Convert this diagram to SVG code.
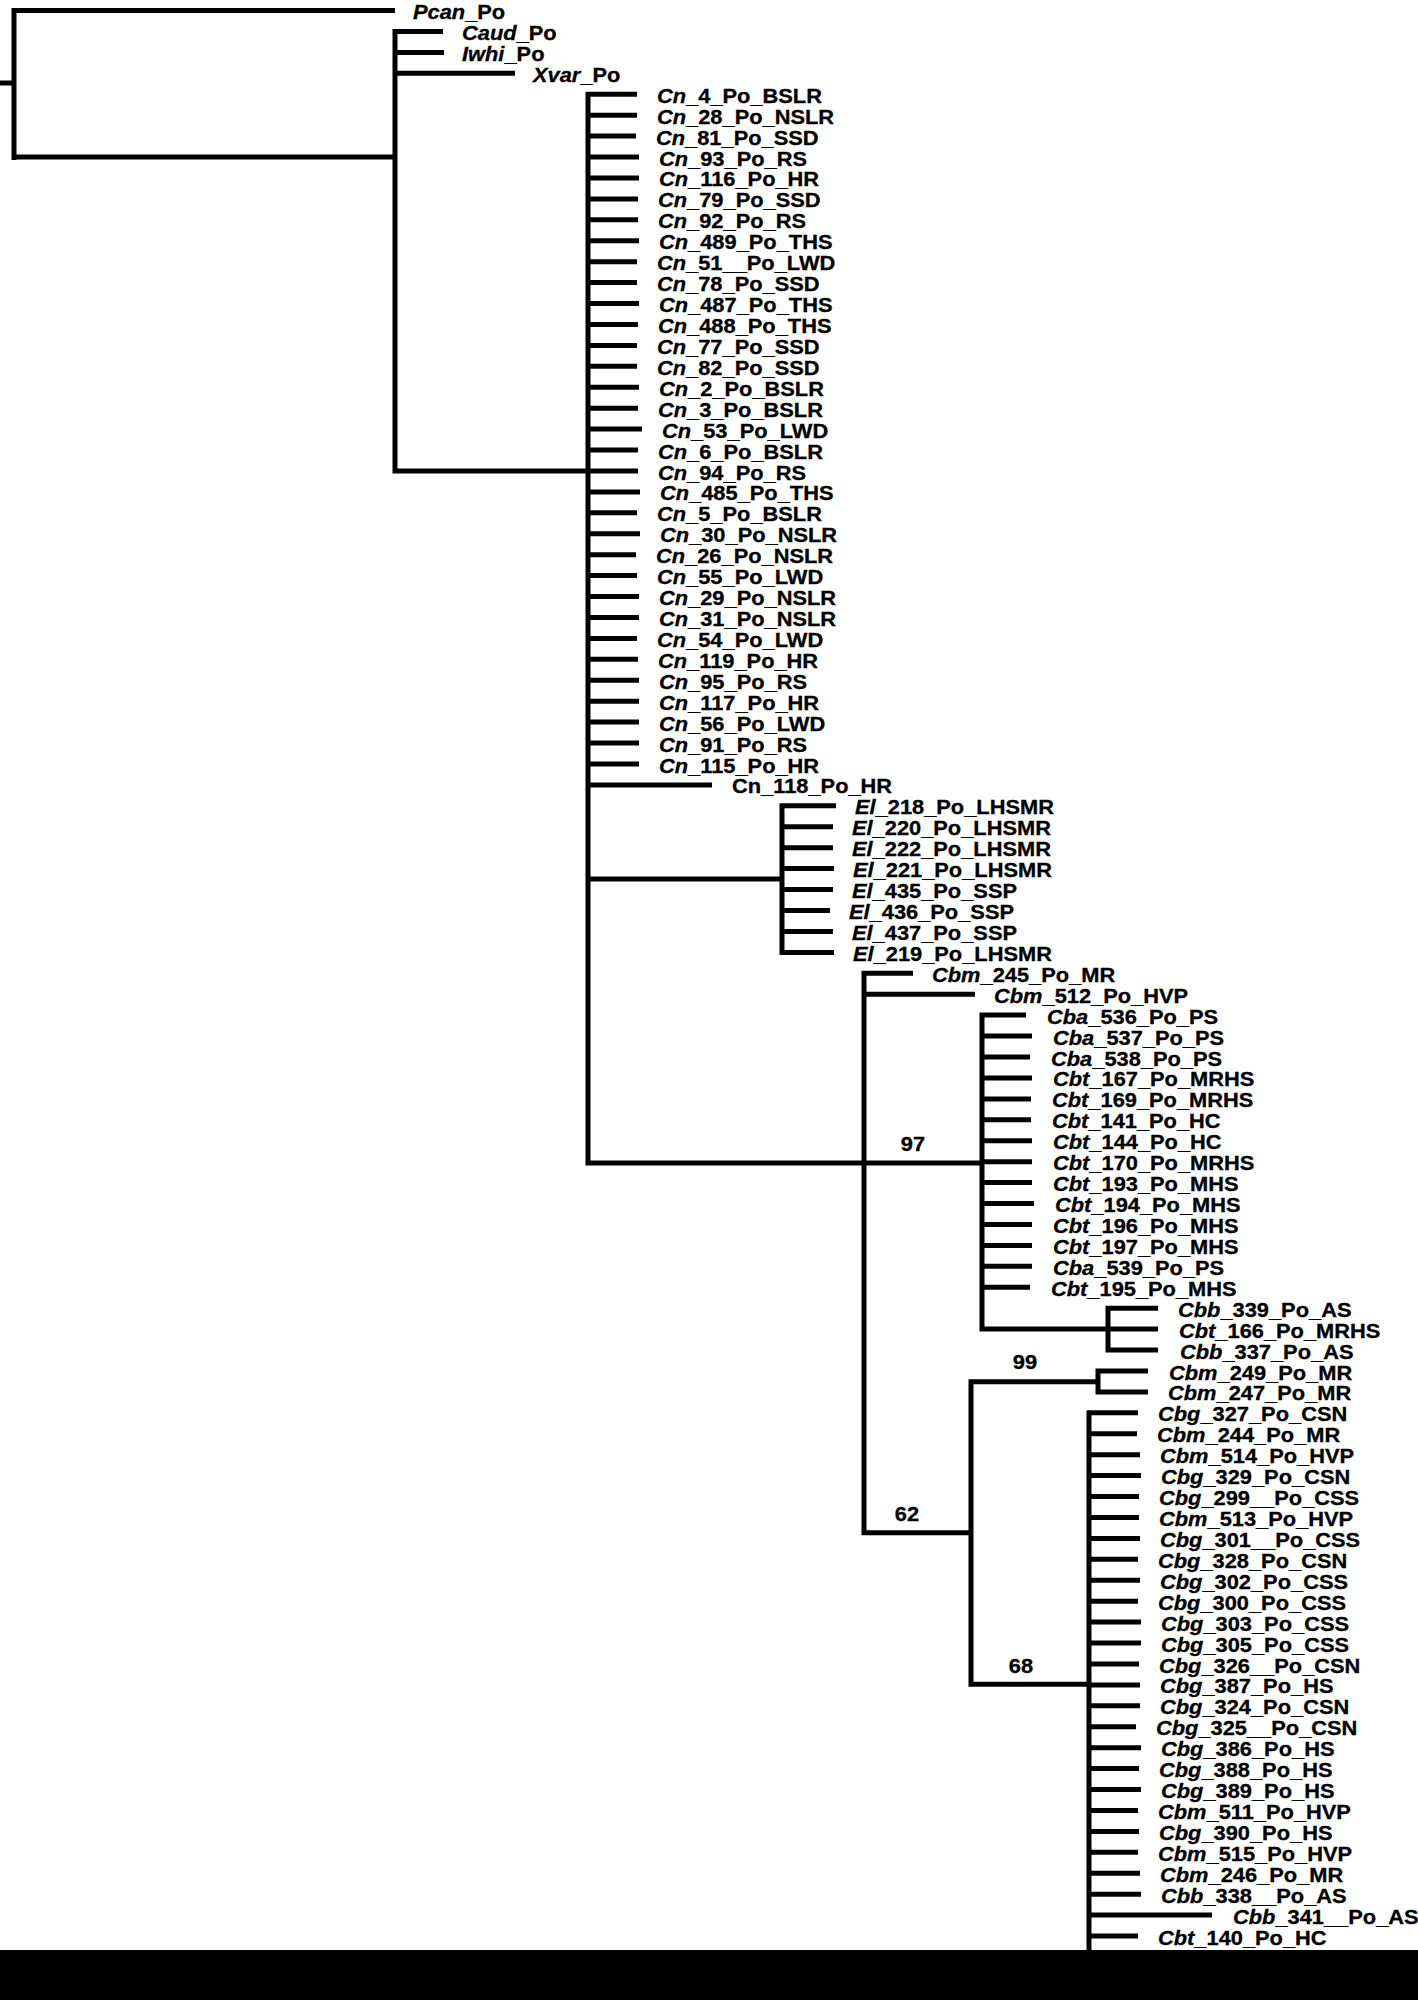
<svg xmlns="http://www.w3.org/2000/svg" width="1418" height="2000" viewBox="0 0 1418 2000">
<style>
text{font-family:"Liberation Sans",Arial,sans-serif;font-weight:bold;font-size:19.5px;fill:#000;stroke:#000;stroke-width:0.3}
.i{font-style:italic}
.br{fill:none;stroke:#000;stroke-width:5;stroke-linecap:butt}
.bs{text-anchor:middle}
</style>
<rect width="1418" height="2000" fill="#fff"/>
<g id="connectors">
<path class="br" d="M0 83H14M14 8V160M14 10.5H395M14 157H395M395 28.9V473.5M395 31.4H443M395 52.4H444M395 73.3H515M395 471H588
M588 91.7V1165.5
M588 94.2H637M588 115.2H637M588 136.1H636M588 157H639M588 177.9H639M588 198.9H638M588 219.8H638M588 240.7H639M588 261.7H637M588 282.6H637M588 303.5H639M588 324.5H638M588 345.4H637M588 366.3H637M588 387.2H639M588 408.2H638M588 429.1H642
M588 450H638M588 471H638M588 491.9H640M588 512.8H637M588 533.8H640M588 554.7H636M588 575.6H637M588 596.5H639M588 617.5H639M588 638.4H637M588 659.3H638M588 680.3H639M588 701.2H639M588 722.1H639M588 743H639M588 764H639
M588 784.9H712
M588 879H782M782 803.3V954.9M782 805.8H836M782 826.8H833M782 847.7H833M782 868.6H834M782 889.6H833M782 910.5H830M782 931.4H833M782 952.4H834
M588 1163H982M864 970.8V1535.2M864 973.3H913M864 994.2H975
M982 1012.6V1331.6M982 1015.1H1026M982 1036.1H1032M982 1057H1030M982 1077.9H1032M982 1098.9H1031M982 1119.8H1031M982 1140.7H1032M982 1161.7H1032M982 1182.6H1032M982 1203.5H1034M982 1224.4H1032M982 1245.4H1032M982 1266.3H1032M982 1287.2H1030
M982 1329.1H1108M1108 1305.7V1352.5M1108 1308.2H1158M1108 1329.1H1158M1108 1350H1158
M864 1532.7H971M971 1379.2V1686.8M971 1381.7H1098M1098 1368.5V1394.4M1098 1371H1148M1098 1391.9H1148
M971 1684.3H1089M1089 1410.3V1960
M1089 1412.8H1138M1089 1433.7H1137M1089 1454.7H1140M1089 1475.6H1141M1089 1496.5H1139M1089 1517.5H1139M1089 1538.4H1140M1089 1559.3H1138M1089 1580.3H1140M1089 1601.2H1138M1089 1622.1H1141M1089 1643H1141M1089 1664H1139M1089 1684.9H1140M1089 1705.8H1140M1089 1726.8H1136M1089 1747.7H1141M1089 1768.6H1139M1089 1789.6H1141M1089 1810.5H1138M1089 1831.4H1139M1089 1852.3H1138M1089 1873.3H1140M1089 1894.2H1141M1089 1915.1H1212M1089 1936.1H1138"/>
</g>
<g id="bootstrap">
<text class="bs" transform="matrix(1.12 0 0 1 913 1150.5)">97</text>
<text class="bs" transform="matrix(1.12 0 0 1 1025 1369)">99</text>
<text class="bs" transform="matrix(1.12 0 0 1 907 1520.7)">62</text>
<text class="bs" transform="matrix(1.12 0 0 1 1021 1672.5)">68</text>
</g>
<g id="tips">
<g id="t0"><text transform="matrix(1.12 0 0 1 413 19)"><tspan class="i">Pcan</tspan>_Po</text></g>
<g id="t1"><text transform="matrix(1.12 0 0 1 462 39.9)"><tspan class="i">Caud</tspan>_Po</text></g>
<g id="t2"><text transform="matrix(1.12 0 0 1 462 60.9)"><tspan class="i">Iwhi</tspan>_Po</text></g>
<g id="t3"><text transform="matrix(1.12 0 0 1 533 81.8)"><tspan class="i">Xvar</tspan>_Po</text></g>
<g id="t4"><text transform="matrix(1.12 0 0 1 657 102.7)"><tspan class="i">Cn</tspan>_4_Po_BSLR</text></g>
<g id="t5"><text transform="matrix(1.12 0 0 1 657 123.7)"><tspan class="i">Cn</tspan>_28_Po_NSLR</text></g>
<g id="t6"><text transform="matrix(1.12 0 0 1 656 144.6)"><tspan class="i">Cn</tspan>_81_Po_SSD</text></g>
<g id="t7"><text transform="matrix(1.12 0 0 1 659 165.5)"><tspan class="i">Cn</tspan>_93_Po_RS</text></g>
<g id="t8"><text transform="matrix(1.12 0 0 1 659 186.4)"><tspan class="i">Cn</tspan>_116_Po_HR</text></g>
<g id="t9"><text transform="matrix(1.12 0 0 1 658 207.4)"><tspan class="i">Cn</tspan>_79_Po_SSD</text></g>
<g id="t10"><text transform="matrix(1.12 0 0 1 658 228.3)"><tspan class="i">Cn</tspan>_92_Po_RS</text></g>
<g id="t11"><text transform="matrix(1.12 0 0 1 659 249.2)"><tspan class="i">Cn</tspan>_489_Po_THS</text></g>
<g id="t12"><text transform="matrix(1.12 0 0 1 657 270.2)"><tspan class="i">Cn</tspan>_51__Po_LWD</text></g>
<g id="t13"><text transform="matrix(1.12 0 0 1 657 291.1)"><tspan class="i">Cn</tspan>_78_Po_SSD</text></g>
<g id="t14"><text transform="matrix(1.12 0 0 1 659 312)"><tspan class="i">Cn</tspan>_487_Po_THS</text></g>
<g id="t15"><text transform="matrix(1.12 0 0 1 658 333)"><tspan class="i">Cn</tspan>_488_Po_THS</text></g>
<g id="t16"><text transform="matrix(1.12 0 0 1 657 353.9)"><tspan class="i">Cn</tspan>_77_Po_SSD</text></g>
<g id="t17"><text transform="matrix(1.12 0 0 1 657 374.8)"><tspan class="i">Cn</tspan>_82_Po_SSD</text></g>
<g id="t18"><text transform="matrix(1.12 0 0 1 659 395.7)"><tspan class="i">Cn</tspan>_2_Po_BSLR</text></g>
<g id="t19"><text transform="matrix(1.12 0 0 1 658 416.7)"><tspan class="i">Cn</tspan>_3_Po_BSLR</text></g>
<g id="t20"><text transform="matrix(1.12 0 0 1 662 437.6)"><tspan class="i">Cn</tspan>_53_Po_LWD</text></g>
<g id="t21"><text transform="matrix(1.12 0 0 1 658 458.5)"><tspan class="i">Cn</tspan>_6_Po_BSLR</text></g>
<g id="t22"><text transform="matrix(1.12 0 0 1 658 479.5)"><tspan class="i">Cn</tspan>_94_Po_RS</text></g>
<g id="t23"><text transform="matrix(1.12 0 0 1 660 500.4)"><tspan class="i">Cn</tspan>_485_Po_THS</text></g>
<g id="t24"><text transform="matrix(1.12 0 0 1 657 521.3)"><tspan class="i">Cn</tspan>_5_Po_BSLR</text></g>
<g id="t25"><text transform="matrix(1.12 0 0 1 660 542.3)"><tspan class="i">Cn</tspan>_30_Po_NSLR</text></g>
<g id="t26"><text transform="matrix(1.12 0 0 1 656 563.2)"><tspan class="i">Cn</tspan>_26_Po_NSLR</text></g>
<g id="t27"><text transform="matrix(1.12 0 0 1 657 584.1)"><tspan class="i">Cn</tspan>_55_Po_LWD</text></g>
<g id="t28"><text transform="matrix(1.12 0 0 1 659 605)"><tspan class="i">Cn</tspan>_29_Po_NSLR</text></g>
<g id="t29"><text transform="matrix(1.12 0 0 1 659 626)"><tspan class="i">Cn</tspan>_31_Po_NSLR</text></g>
<g id="t30"><text transform="matrix(1.12 0 0 1 657 646.9)"><tspan class="i">Cn</tspan>_54_Po_LWD</text></g>
<g id="t31"><text transform="matrix(1.12 0 0 1 658 667.8)"><tspan class="i">Cn</tspan>_119_Po_HR</text></g>
<g id="t32"><text transform="matrix(1.12 0 0 1 659 688.8)"><tspan class="i">Cn</tspan>_95_Po_RS</text></g>
<g id="t33"><text transform="matrix(1.12 0 0 1 659 709.7)"><tspan class="i">Cn</tspan>_117_Po_HR</text></g>
<g id="t34"><text transform="matrix(1.12 0 0 1 659 730.6)"><tspan class="i">Cn</tspan>_56_Po_LWD</text></g>
<g id="t35"><text transform="matrix(1.12 0 0 1 659 751.6)"><tspan class="i">Cn</tspan>_91_Po_RS</text></g>
<g id="t36"><text transform="matrix(1.12 0 0 1 659 772.5)"><tspan class="i">Cn</tspan>_115_Po_HR</text></g>
<g id="t37"><text transform="matrix(1.12 0 0 1 732 793.4)">Cn_118_Po_HR</text></g>
<g id="t38"><text transform="matrix(1.12 0 0 1 855 814.3)"><tspan class="i">El</tspan>_218_Po_LHSMR</text></g>
<g id="t39"><text transform="matrix(1.12 0 0 1 852 835.3)"><tspan class="i">El</tspan>_220_Po_LHSMR</text></g>
<g id="t40"><text transform="matrix(1.12 0 0 1 852 856.2)"><tspan class="i">El</tspan>_222_Po_LHSMR</text></g>
<g id="t41"><text transform="matrix(1.12 0 0 1 853 877.1)"><tspan class="i">El</tspan>_221_Po_LHSMR</text></g>
<g id="t42"><text transform="matrix(1.12 0 0 1 852 898.1)"><tspan class="i">El</tspan>_435_Po_SSP</text></g>
<g id="t43"><text transform="matrix(1.12 0 0 1 849 919)"><tspan class="i">El</tspan>_436_Po_SSP</text></g>
<g id="t44"><text transform="matrix(1.12 0 0 1 852 939.9)"><tspan class="i">El</tspan>_437_Po_SSP</text></g>
<g id="t45"><text transform="matrix(1.12 0 0 1 853 960.9)"><tspan class="i">El</tspan>_219_Po_LHSMR</text></g>
<g id="t46"><text transform="matrix(1.12 0 0 1 932 981.8)"><tspan class="i">Cbm</tspan>_245_Po_MR</text></g>
<g id="t47"><text transform="matrix(1.12 0 0 1 994 1002.7)"><tspan class="i">Cbm</tspan>_512_Po_HVP</text></g>
<g id="t48"><text transform="matrix(1.12 0 0 1 1047 1023.6)"><tspan class="i">Cba</tspan>_536_Po_PS</text></g>
<g id="t49"><text transform="matrix(1.12 0 0 1 1053 1044.6)"><tspan class="i">Cba</tspan>_537_Po_PS</text></g>
<g id="t50"><text transform="matrix(1.12 0 0 1 1051 1065.5)"><tspan class="i">Cba</tspan>_538_Po_PS</text></g>
<g id="t51"><text transform="matrix(1.12 0 0 1 1053 1086.4)"><tspan class="i">Cbt</tspan>_167_Po_MRHS</text></g>
<g id="t52"><text transform="matrix(1.12 0 0 1 1052 1107.4)"><tspan class="i">Cbt</tspan>_169_Po_MRHS</text></g>
<g id="t53"><text transform="matrix(1.12 0 0 1 1052 1128.3)"><tspan class="i">Cbt</tspan>_141_Po_HC</text></g>
<g id="t54"><text transform="matrix(1.12 0 0 1 1053 1149.2)"><tspan class="i">Cbt</tspan>_144_Po_HC</text></g>
<g id="t55"><text transform="matrix(1.12 0 0 1 1053 1170.2)"><tspan class="i">Cbt</tspan>_170_Po_MRHS</text></g>
<g id="t56"><text transform="matrix(1.12 0 0 1 1053 1191.1)"><tspan class="i">Cbt</tspan>_193_Po_MHS</text></g>
<g id="t57"><text transform="matrix(1.12 0 0 1 1055 1212)"><tspan class="i">Cbt</tspan>_194_Po_MHS</text></g>
<g id="t58"><text transform="matrix(1.12 0 0 1 1053 1232.9)"><tspan class="i">Cbt</tspan>_196_Po_MHS</text></g>
<g id="t59"><text transform="matrix(1.12 0 0 1 1053 1253.9)"><tspan class="i">Cbt</tspan>_197_Po_MHS</text></g>
<g id="t60"><text transform="matrix(1.12 0 0 1 1053 1274.8)"><tspan class="i">Cba</tspan>_539_Po_PS</text></g>
<g id="t61"><text transform="matrix(1.12 0 0 1 1051 1295.7)"><tspan class="i">Cbt</tspan>_195_Po_MHS</text></g>
<g id="t62"><text transform="matrix(1.12 0 0 1 1178 1316.7)"><tspan class="i">Cbb</tspan>_339_Po_AS</text></g>
<g id="t63"><text transform="matrix(1.12 0 0 1 1179 1337.6)"><tspan class="i">Cbt</tspan>_166_Po_MRHS</text></g>
<g id="t64"><text transform="matrix(1.12 0 0 1 1180 1358.5)"><tspan class="i">Cbb</tspan>_337_Po_AS</text></g>
<g id="t65"><text transform="matrix(1.12 0 0 1 1169 1379.5)"><tspan class="i">Cbm</tspan>_249_Po_MR</text></g>
<g id="t66"><text transform="matrix(1.12 0 0 1 1168 1400.4)"><tspan class="i">Cbm</tspan>_247_Po_MR</text></g>
<g id="t67"><text transform="matrix(1.12 0 0 1 1158 1421.3)"><tspan class="i">Cbg</tspan>_327_Po_CSN</text></g>
<g id="t68"><text transform="matrix(1.12 0 0 1 1157 1442.2)"><tspan class="i">Cbm</tspan>_244_Po_MR</text></g>
<g id="t69"><text transform="matrix(1.12 0 0 1 1160 1463.2)"><tspan class="i">Cbm</tspan>_514_Po_HVP</text></g>
<g id="t70"><text transform="matrix(1.12 0 0 1 1161 1484.1)"><tspan class="i">Cbg</tspan>_329_Po_CSN</text></g>
<g id="t71"><text transform="matrix(1.12 0 0 1 1159 1505)"><tspan class="i">Cbg</tspan>_299__Po_CSS</text></g>
<g id="t72"><text transform="matrix(1.12 0 0 1 1159 1526)"><tspan class="i">Cbm</tspan>_513_Po_HVP</text></g>
<g id="t73"><text transform="matrix(1.12 0 0 1 1160 1546.9)"><tspan class="i">Cbg</tspan>_301__Po_CSS</text></g>
<g id="t74"><text transform="matrix(1.12 0 0 1 1158 1567.8)"><tspan class="i">Cbg</tspan>_328_Po_CSN</text></g>
<g id="t75"><text transform="matrix(1.12 0 0 1 1160 1588.8)"><tspan class="i">Cbg</tspan>_302_Po_CSS</text></g>
<g id="t76"><text transform="matrix(1.12 0 0 1 1158 1609.7)"><tspan class="i">Cbg</tspan>_300_Po_CSS</text></g>
<g id="t77"><text transform="matrix(1.12 0 0 1 1161 1630.6)"><tspan class="i">Cbg</tspan>_303_Po_CSS</text></g>
<g id="t78"><text transform="matrix(1.12 0 0 1 1161 1651.5)"><tspan class="i">Cbg</tspan>_305_Po_CSS</text></g>
<g id="t79"><text transform="matrix(1.12 0 0 1 1159 1672.5)"><tspan class="i">Cbg</tspan>_326__Po_CSN</text></g>
<g id="t80"><text transform="matrix(1.12 0 0 1 1160 1693.4)"><tspan class="i">Cbg</tspan>_387_Po_HS</text></g>
<g id="t81"><text transform="matrix(1.12 0 0 1 1160 1714.3)"><tspan class="i">Cbg</tspan>_324_Po_CSN</text></g>
<g id="t82"><text transform="matrix(1.12 0 0 1 1156 1735.3)"><tspan class="i">Cbg</tspan>_325__Po_CSN</text></g>
<g id="t83"><text transform="matrix(1.12 0 0 1 1161 1756.2)"><tspan class="i">Cbg</tspan>_386_Po_HS</text></g>
<g id="t84"><text transform="matrix(1.12 0 0 1 1159 1777.1)"><tspan class="i">Cbg</tspan>_388_Po_HS</text></g>
<g id="t85"><text transform="matrix(1.12 0 0 1 1161 1798.1)"><tspan class="i">Cbg</tspan>_389_Po_HS</text></g>
<g id="t86"><text transform="matrix(1.12 0 0 1 1158 1819)"><tspan class="i">Cbm</tspan>_511_Po_HVP</text></g>
<g id="t87"><text transform="matrix(1.12 0 0 1 1159 1839.9)"><tspan class="i">Cbg</tspan>_390_Po_HS</text></g>
<g id="t88"><text transform="matrix(1.12 0 0 1 1158 1860.8)"><tspan class="i">Cbm</tspan>_515_Po_HVP</text></g>
<g id="t89"><text transform="matrix(1.12 0 0 1 1160 1881.8)"><tspan class="i">Cbm</tspan>_246_Po_MR</text></g>
<g id="t90"><text transform="matrix(1.12 0 0 1 1161 1902.7)"><tspan class="i">Cbb</tspan>_338__Po_AS</text></g>
<g id="t91"><text transform="matrix(1.12 0 0 1 1233 1923.6)"><tspan class="i">Cbb</tspan>_341__Po_AS</text></g>
<g id="t92"><text transform="matrix(1.12 0 0 1 1158 1944.6)"><tspan class="i">Cbt</tspan>_140_Po_HC</text></g>
</g>
<rect id="bottom-bar" x="0" y="1950" width="1418" height="50" fill="#000"/>
</svg>
